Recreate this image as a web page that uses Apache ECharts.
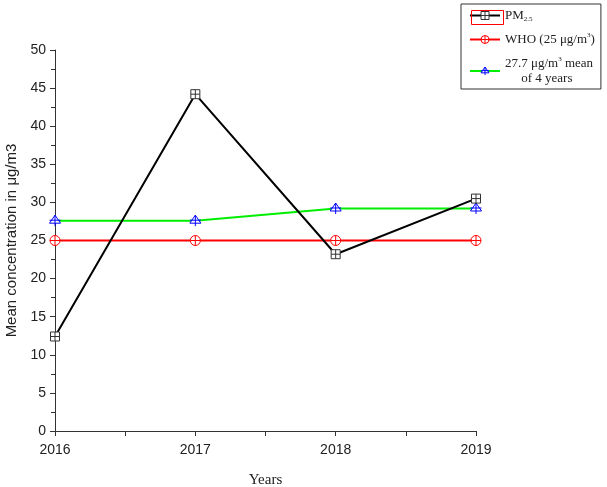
<!DOCTYPE html>
<html>
<head>
<meta charset="utf-8">
<script src="https://cdn.jsdelivr.net/npm/echarts@6/dist/echarts.min.js"></script>
<style>
  html, body { margin: 0; padding: 0; background: #fff; }
  #chart { width: 607px; height: 487px; }
</style>
</head>
<body>
<div id="chart"></div>
<script>
// values
var years = [2016, 2017, 2018, 2019]
var pm25 = [12.4, 44.2, 23.2, 30.5]
var who = [25, 25, 25, 25]
var mean4 = [27.6, 27.6, 29.2, 29.2]

function pairs(vals) {
  return years.map(function (y, i) { return [y, vals[i]] })
}

// hollow markers with a cross inside
var symSquare = 'path://M0,0L10,0L10,10L0,10ZM5,0L5,10M0,5L10,5'
var symCircle = 'path://M0,5A5,5,0,1,1,10,5A5,5,0,1,1,0,5ZM5,0L5,10M0,5L10,5'
var symTri = 'path://M5,0L10,8L0,8ZM5,0L5,11M0,5L10,5'

var serif = '"Liberation Serif", "DejaVu Serif", serif'
var sans = '"Liberation Sans", Arial, sans-serif'

var chart = echarts.init(document.getElementById('chart'))
var option = {
  backgroundColor: '#fff',
  animation: false,
  grid: { left: 55, right: 131, top: 50, bottom: 56, outerBoundsMode: 'none' },
  legend: {
    orient: 'vertical',
    left: 461,
    top: 4,
    padding: [4, 6, 3, 8],
    itemGap: 9,
    itemWidth: 30,
    itemHeight: 10,
    borderColor: '#333',
    borderWidth: 1,
    textStyle: {
      fontFamily: serif,
      fontSize: 13,
      color: '#222',
      lineHeight: 15,
      rich: {
        sub: { fontFamily: serif, fontSize: 7, verticalAlign: 'bottom', padding: [8, 0, 0, 0] },
        sup: { fontFamily: serif, fontSize: 7, verticalAlign: 'top', padding: [0, 0, 6, 0] }
      }
    },
    formatter: function (name) {
      if (name === 'PM2.5') return 'PM{sub|2.5}'
      if (name === 'WHO') return 'WHO (25 μg/m{sup|3})'
      return '27.7 μg/m{sup|3} mean\n     of 4 years'
    },
    data: [
      { name: 'PM2.5', itemStyle: { color: '#fff', borderColor: '#333', borderWidth: 1 } },
      { name: 'WHO', itemStyle: { color: '#fff', borderColor: '#ff0000', borderWidth: 1 } },
      { name: 'mean', itemStyle: { color: '#fff', borderColor: '#0000ff', borderWidth: 1 } }
    ]
  },
  xAxis: {
    type: 'value',
    min: 2016,
    max: 2019,
    interval: 1,
    name: 'Years',
    nameLocation: 'middle',
    nameGap: 42,
    nameTextStyle: { fontFamily: serif, fontSize: 15, color: '#222' },
    axisLine: { lineStyle: { color: '#333', width: 1 } },
    axisTick: { show: true, length: 5, lineStyle: { color: '#333' } },
    minorTick: { show: true, splitNumber: 2, length: 5, lineStyle: { color: '#333' } },
    axisLabel: {
      fontFamily: sans, fontSize: 14, color: '#222', margin: 12,
      formatter: function (v) { return String(v) }
    },
    splitLine: { show: false }
  },
  yAxis: {
    type: 'value',
    min: 0,
    max: 50,
    interval: 5,
    name: 'Mean concentration in μg/m3',
    nameLocation: 'middle',
    nameGap: 34,
    nameTextStyle: { fontFamily: sans, fontSize: 15, color: '#222' },
    axisLine: { show: true, lineStyle: { color: '#333', width: 1 } },
    axisTick: { show: true, length: 5, lineStyle: { color: '#333' } },
    minorTick: { show: true, splitNumber: 2, length: 4, lineStyle: { color: '#333' } },
    axisLabel: { fontFamily: sans, fontSize: 14, color: '#222', margin: 9 },
    splitLine: { show: false }
  },
  series: [
    {
      name: 'PM2.5',
      type: 'line',
      data: pairs(pm25),
      symbol: symSquare,
      symbolSize: 9,
      lineStyle: { color: '#000', width: 2 },
      itemStyle: { color: '#fff', borderColor: '#333', borderWidth: 1 },
      z: 4
    },
    {
      name: 'WHO',
      type: 'line',
      data: pairs(who),
      symbol: symCircle,
      symbolSize: 10,
      lineStyle: { color: '#ff0000', width: 2 },
      itemStyle: { color: '#fff', borderColor: '#ff0000', borderWidth: 1 },
      z: 3
    },
    {
      name: 'mean',
      type: 'line',
      data: pairs(mean4),
      symbol: symTri,
      symbolSize: [11, 11],
      lineStyle: { color: '#00ee00', width: 2 },
      itemStyle: { color: '#fff', borderColor: '#0000ff', borderWidth: 1 },
      z: 3
    }
  ],
  graphic: [
    {
      type: 'rect',
      left: 469,
      top: 8,
      shape: { width: 32, height: 14 },
      style: { fill: 'none', stroke: '#ff0000', lineWidth: 1 },
      z: 100
    }
  ]
}
chart.setOption(option)
</script>
</body>
</html>
